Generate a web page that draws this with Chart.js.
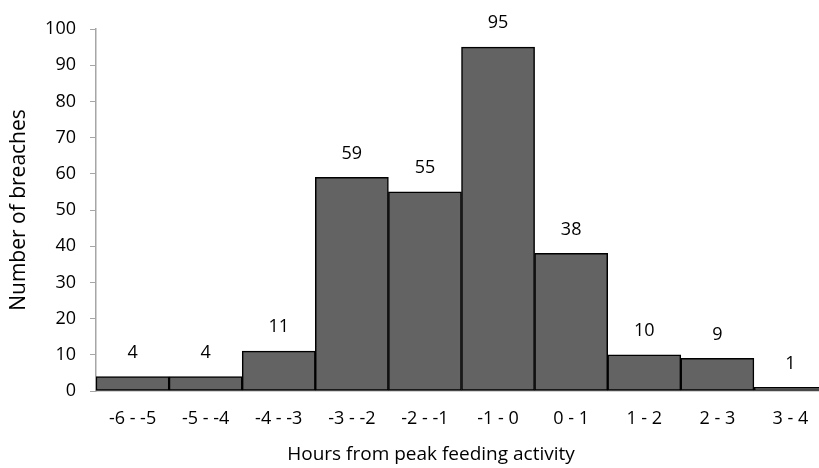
<!DOCTYPE html>
<html>
<head>
<meta charset="utf-8">
<script src="https://cdn.jsdelivr.net/npm/chart.js@4"></script>
<style>
  html, body { margin: 0; padding: 0; background: #fff; overflow: hidden; }
  #wrap { width: 830px; height: 468px; }
</style>
</head>
<body>
<div id="wrap"><canvas id="grafico" width="830" height="468"></canvas></div>
<script>
// data
const categorias = ["-6 - -5", "-5 - -4", "-4 - -3", "-3 - -2", "-2 - -1", "-1 - 0", "0 - 1", "1 - 2", "2 - 3", "3 - 4"];
const breaches = [4, 4, 11, 59, 55, 95, 38, 10, 9, 1];
const yTicks = [0, 10, 20, 30, 40, 50, 60, 70, 80, 90, 100];
const tituloX = "Hours from peak feeding activity";
const tituloY = "Number of breaches";

const FONT = "'Open Sans', 'Liberation Sans', sans-serif";

// labels above bars + x title (centred like the original, not on the plot area)
const etiquetas = {
  id: "etiquetas",
  afterDatasetsDraw(chart) {
    const ctx = chart.ctx;
    const meta = chart.getDatasetMeta(0);
    ctx.save();
    ctx.font = "18px " + FONT;
    ctx.fillStyle = "#000";
    ctx.textAlign = "center";
    ctx.textBaseline = "middle";
    meta.data.forEach((bar, i) => {
      ctx.fillText(String(breaches[i]), bar.x, bar.y - 24);
    });
    ctx.font = "19px " + FONT;
    ctx.fillText(tituloX, 431, 455);
    ctx.restore();
  }
};

new Chart(document.getElementById("grafico"), {
  type: "bar",
  data: {
    labels: categorias,
    datasets: [{
      data: breaches,
      backgroundColor: "#636363",
      borderColor: "#000000",
      borderWidth: 1.5,
      borderSkipped: false,
      categoryPercentage: 1,
      barPercentage: 1
    }]
  },
  options: {
    responsive: false,
    animation: false,
    layout: { padding: { top: 29, right: 3, left: 0, bottom: 0 } },
    plugins: {
      legend: { display: false },
      tooltip: { enabled: false }
    },
    scales: {
      x: {
        afterFit: s => { s.height = 77; },
        grid: { display: true, drawOnChartArea: false, drawTicks: false, color: "#a6a6a6" },
        border: { display: true, color: "#a6a6a6", width: 1.5 },
        ticks: { color: "#000", font: { family: FONT, size: 18 }, padding: 17 },
        title: { display: false }
      },
      y: {
        min: 0,
        max: 100,
        afterFit: s => { s.width = 96; },
        afterBuildTicks: s => { s.ticks = yTicks.map(v => ({ value: v })); },
        grid: { display: true, drawOnChartArea: false, drawTicks: true, tickLength: 6, color: "#a6a6a6" },
        border: { display: true, color: "#a6a6a6", width: 1.5 },
        ticks: { color: "#000", font: { family: FONT, size: 18 }, padding: 14 },
        title: {
          display: true,
          text: tituloY,
          color: "#000",
          font: { family: FONT, size: 21 },
          padding: { top: 6, bottom: 0 }
        }
      }
    }
  },
  plugins: [etiquetas]
});
</script>
</body>
</html>
